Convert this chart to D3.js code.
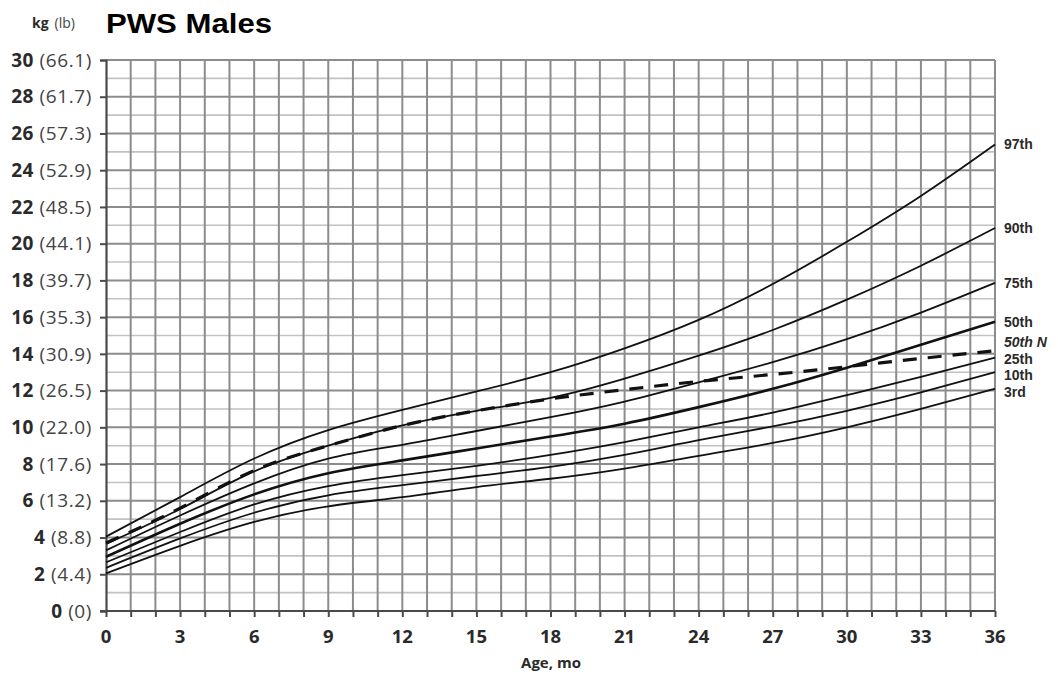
<!DOCTYPE html>
<html>
<head>
<meta charset="utf-8">
<script src="https://cdn.jsdelivr.net/npm/d3@7"></script>
<style>
  html, body { margin: 0; padding: 0; background: #fff; }
  svg { display: block; }
</style>
</head>
<body>
<svg id="chart" width="1058" height="679"></svg>
<script>
// ---- Data ----
const months = [0, 3, 6, 9, 12, 15, 18, 21, 24, 27, 30, 33, 36];
const p97  = [4.05, 6.2, 8.3, 9.85, 10.95, 11.95, 13.0, 14.3, 15.85, 17.8, 20.1, 22.6, 25.4];
const p90  = [3.65, 5.55, 7.6, 9.0, 10.1, 10.9, 11.6, 12.65, 13.9, 15.3, 16.95, 18.8, 20.85];
const p75  = [3.3, 5.2, 6.95, 8.3, 9.05, 9.8, 10.55, 11.4, 12.45, 13.55, 14.8, 16.25, 17.87];
const p50  = [2.95, 4.75, 6.35, 7.5, 8.2, 8.85, 9.5, 10.2, 11.1, 12.1, 13.25, 14.5, 15.75];
const p50N = [3.7, 5.6, 7.65, 9.0, 10.1, 10.9, 11.55, 12.05, 12.5, 12.88, 13.3, 13.75, 14.17];
const p25  = [2.65, 4.3, 5.8, 6.8, 7.4, 7.9, 8.5, 9.2, 10.0, 10.8, 11.75, 12.75, 13.8];
const p10  = [2.35, 3.95, 5.35, 6.3, 6.85, 7.35, 7.85, 8.5, 9.3, 10.05, 10.9, 11.9, 13.0];
const p3   = [2.05, 3.55, 4.85, 5.7, 6.2, 6.75, 7.2, 7.75, 8.45, 9.15, 10.0, 11.0, 12.1];

const seriesNames = ["97th", "90th", "75th", "50th", "50th N", "25th", "10th", "3rd"];
const seriesValues = [p97, p90, p75, p50, p50N, p25, p10, p3];

const yTicksKg = [0, 2, 4, 6, 8, 10, 12, 14, 16, 18, 20, 22, 24, 26, 28, 30];
const yTicksLb = ["0", "4.4", "8.8", "13.2", "17.6", "22.0", "26.5", "30.9", "35.3", "39.7", "44.1", "48.5", "52.9", "57.3", "61.7", "66.1"];
const xTickLabels = [0, 3, 6, 9, 12, 15, 18, 21, 24, 27, 30, 33, 36];

const title = "PWS Males";
const unitKg = "kg", unitLb = "(lb)";
const xTitle = "Age, mo";

// ---- Layout ----
const svg = d3.select("#chart");
const x = d3.scaleLinear().domain([0, 36]).range([106, 995]);
const y = d3.scaleLinear().domain([0, 30]).range([611, 60]);
const FONT = "'Open Sans', 'DejaVu Sans', sans-serif";
const gridDark = "#8c8c8c", gridLight = "#c2c2c2", axisCol = "#4a4a4a", txt = "#2a2a2a";

// grid: horizontal
const g = svg.append("g");
g.selectAll("line.h").data(d3.range(1, 31)).join("line")
  .attr("x1", x(0)).attr("x2", x(36))
  .attr("y1", d => y(d)).attr("y2", d => y(d))
  .attr("stroke", d => d % 2 === 0 ? gridDark : gridLight)
  .attr("stroke-width", d => d % 2 === 0 ? 2 : 1.6);
// grid: vertical
g.selectAll("line.v").data(d3.range(1, 37)).join("line")
  .attr("x1", d => x(d)).attr("x2", d => x(d))
  .attr("y1", y(0)).attr("y2", y(30))
  .attr("stroke", gridDark).attr("stroke-width", 2);

// axes
const yAxis = d3.axisLeft(y).tickValues(yTicksKg).tickSize(6).tickFormat("");
const xAxis = d3.axisBottom(x).tickValues(d3.range(0, 37)).tickSize(6).tickFormat("");
const ya = svg.append("g").attr("transform", `translate(${x(0)},0)`).call(yAxis);
const xa = svg.append("g").attr("transform", `translate(0,${y(0)})`).call(xAxis);
[ya, xa].forEach(a => {
  a.select(".domain").attr("stroke", axisCol).attr("stroke-width", 2.2);
  a.selectAll(".tick line").attr("stroke", axisCol).attr("stroke-width", 2);
});
xa.select(".domain").attr("d", `M${x(0)-6},0H${x(36)}`);

// y labels
const yl = svg.append("g").attr("font-family", FONT).attr("font-size", 19).attr("fill", txt)
  .attr("letter-spacing", 0.6);
yTicksKg.forEach((v, i) => {
  const t = yl.append("text").attr("x", 92).attr("y", y(v)).attr("dy", "0.35em").attr("text-anchor", "end");
  t.append("tspan").attr("font-weight", 700).text(v + " ");
  t.append("tspan").attr("font-weight", 400).attr("fill", "#444").text("(" + yTicksLb[i] + ")");
});

// x labels
svg.append("g").selectAll("text").data(xTickLabels).join("text")
  .attr("x", d => x(d)).attr("y", 637).attr("dy", "0.35em")
  .attr("text-anchor", "middle").attr("font-family", FONT).attr("font-size", 18.5)
  .attr("font-weight", 700).attr("fill", txt).text(d => d);

svg.append("text").attr("x", 551).attr("y", 663).attr("dy", "0.35em")
  .attr("text-anchor", "middle").attr("font-family", FONT).attr("font-size", 15)
  .attr("font-weight", 700).attr("fill", txt).text(xTitle);

// curves
const line = d3.line().x((d, i) => x(months[i])).y(d => y(d)).curve(d3.curveNatural);
const cg = svg.append("g").attr("fill", "none");
seriesValues.forEach((vals, i) => {
  const name = seriesNames[i];
  const p = cg.append("path").datum(vals).attr("d", line).attr("stroke", "#111");
  if (name === "50th N") p.attr("stroke-width", 3.2).attr("stroke-dasharray", "14 11");
  else if (name === "50th") p.attr("stroke-width", 2.6);
  else p.attr("stroke-width", 1.8);
});

// end labels with simple collision avoidance
const GAP = 16.5;
const labs = seriesNames.map((n, i) => ({ n, y: y(seriesValues[i][seriesValues[i].length - 1]) }));
labs.sort((a, b) => a.y - b.y);
for (let it = 0; it < 60; it++) {
  for (let k = 1; k < labs.length; k++) {
    const gap = labs[k].y - labs[k - 1].y;
    if (gap < GAP) { const s = (GAP - gap) / 2; labs[k].y += s; labs[k - 1].y -= s; }
  }
}
svg.append("g").selectAll("text").data(labs).join("text")
  .attr("x", 1004).attr("y", d => d.y).attr("dy", "0.35em")
  .attr("font-family", "'Liberation Sans', Arial, sans-serif").attr("font-size", 14).attr("font-weight", 700)
  .attr("font-style", d => d.n === "50th N" ? "italic" : "normal")
  .attr("fill", txt).text(d => d.n);

// titles
const ut = svg.append("text").attr("x", 32).attr("y", 28).attr("font-family", FONT).attr("font-size", 14).attr("fill", txt);
ut.append("tspan").attr("font-weight", 700).text(unitKg);
ut.append("tspan").attr("dx", 6).attr("font-weight", 400).attr("fill", "#444").text(unitLb);
svg.append("text").attr("x", 106).attr("y", 33).attr("font-family", "'Liberation Sans', Arial, sans-serif")
  .attr("font-size", 27).attr("font-weight", 700).attr("fill", "#000")
  .attr("textLength", 166).attr("lengthAdjust", "spacingAndGlyphs").text(title);
</script>
</body>
</html>
